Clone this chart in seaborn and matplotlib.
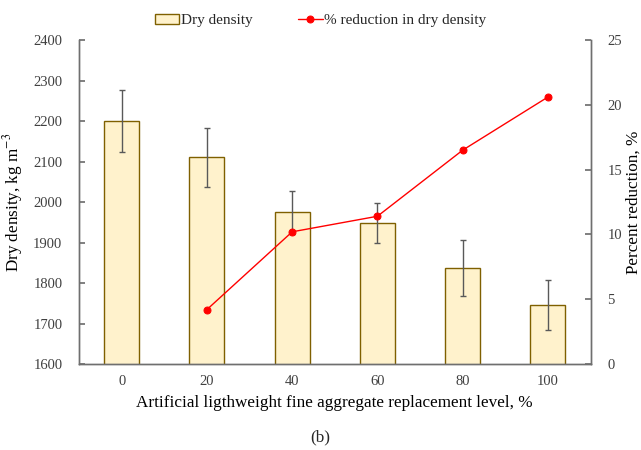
import numpy as np
import pandas as pd
import matplotlib
matplotlib.use("Agg")
import matplotlib.pyplot as plt
import seaborn as sns

# --- data ---
levels = ["0", "20", "40", "60", "80", "100"]
dry_density = [2200, 2110, 1975, 1948, 1836, 1746]
density_err = [77, 72, 53, 50, 69, 62]
reduction_levels = ["20", "40", "60", "80", "100"]
pct_reduction = [4.2, 10.2, 11.4, 16.5, 20.6]

sns.set_theme(style="white")
plt.rcParams["font.family"] = ["Liberation Serif", "DejaVu Serif"]
plt.rcParams["mathtext.fontset"] = "stix"

tick_color = "#404040"
spine_color = "#6f6f6f"
bar_face = "#fff2cc"
bar_edge = "#7f6000"

df = pd.DataFrame({"level": levels, "density": dry_density, "err": density_err})

fig = plt.figure(figsize=(6.41, 4.5), dpi=100)
ax = fig.add_axes([0.1233, 0.1911, 0.7980, 0.7200])

sns.barplot(data=df, x="level", y="density", ax=ax, color=bar_face,
            edgecolor=bar_edge, linewidth=1.0, width=0.41, errorbar=None,
            saturation=1, label="Dry density")
if ax.get_legend() is not None:
    ax.get_legend().remove()
ax.errorbar(np.arange(len(levels)), dry_density, yerr=density_err, fmt="none",
            ecolor="#595959", elinewidth=1.0, capsize=2.5, capthick=1.0)

ax.set_ylim(1600, 2400)
ax.set_xlim(-0.5, len(levels) - 0.5)
ax.set_yticks(range(1600, 2401, 100))
ax.set_ylabel("Dry density, kg m$^{-3}$", fontsize=12.3, color="black",
              labelpad=6)
ax.set_xlabel("Artificial ligthweight fine aggregate replacement level, %",
              fontsize=12.3, color="black", labelpad=5)

# twin axis for the reduction line
ax2 = ax.twinx()
pos = [levels.index(l) for l in reduction_levels]
sns.lineplot(x=pos, y=pct_reduction, ax=ax2, color="#ff0000", marker="o",
             markersize=5, markeredgecolor="#ff0000", linewidth=1.0,
             label="% reduction in dry density", legend=False)
ax2.set_ylim(0, 25)
ax2.set_yticks(range(0, 26, 5))
ax2.set_ylabel("Percent reduction, %", fontsize=12.3, color="black",
               labelpad=3)

# ticks: labels at category centres, small marks at category boundaries
ax.set_xticks(range(len(levels)))
ax.set_xticklabels(levels)
ax.set_xticks(np.arange(-0.5, len(levels)), minor=True)
ax.tick_params(axis="x", which="major", length=0, labelsize=10.5,
               labelcolor=tick_color, pad=8)
ax.tick_params(axis="x", which="minor", direction="in", length=3,
               color=spine_color, width=1)
ax.tick_params(axis="y", direction="in", length=4, color=spine_color,
               labelsize=10.5, labelcolor=tick_color, left=True, pad=12)
ax2.tick_params(axis="y", direction="in", length=4, color=spine_color,
                labelsize=10.5, labelcolor=tick_color, right=True, pad=12)

for a in (ax, ax2):
    a.spines["top"].set_visible(False)
    for s in ("left", "right", "bottom"):
        a.spines[s].set_color(spine_color)
        a.spines[s].set_linewidth(1.0)
    a.grid(False)

h1, l1 = ax.get_legend_handles_labels()
h2, l2 = ax2.get_legend_handles_labels()
fig.legend(h1 + h2, l1 + l2, loc="upper center", bbox_to_anchor=(0.5, 1.0),
           ncol=2, frameon=False, fontsize=11, handlelength=1.6,
           handletextpad=0.1, columnspacing=3.0)

fig.text(0.5, 0.027, "(b)", ha="center", va="center", fontsize=12.3)

fig.savefig("out.png", dpi=100)
